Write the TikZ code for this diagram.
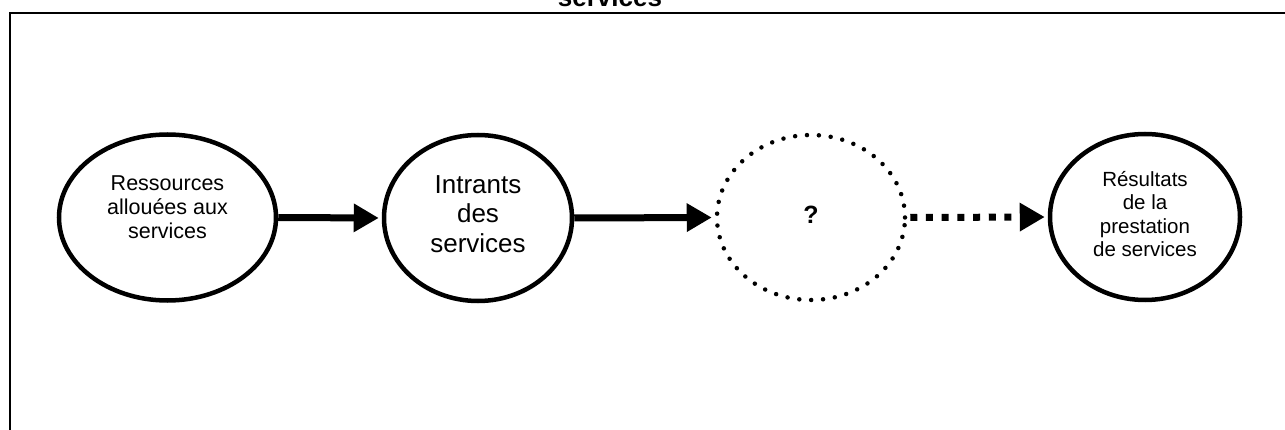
\documentclass[tikz,border=0pt]{standalone}
\usepackage{fontspec}
\setmainfont{Liberation Sans}
\usetikzlibrary{shapes.geometric,arrows.meta}
\tikzset{
  bubble/.style={ellipse, draw, line width=4.5pt, inner sep=0pt},
  dotbubble/.style={ellipse, draw, line width=4.5pt, inner sep=0pt, dash pattern=on 0pt off 11.9pt, line cap=round},
  txt/.style={align=center, inner sep=0pt},
  flow/.style={line width=7pt, -{Triangle[length=25pt, width=27pt]}, shorten >=3pt},
  dflow/.style={flow, dash pattern=on 7pt off 8.7pt},
  frame/.style={line width=2pt}
}
\begin{document}
\begin{tikzpicture}[x=1pt,y=-1pt]
\useasboundingbox (0,0) rectangle (1285,430);
% frame
\coordinate (fbl) at (10,445);
\coordinate (ftl) at (10,13);
\coordinate (ftr) at (1300,13);
\draw[frame] (fbl) -- (ftl) -- (ftr);
% title (cut off at the top, as in the reference)
\node[anchor=base, inner sep=0pt, font=\bfseries\fontsize{26}{30}\selectfont] (title) at (610,6.5) {services};
% ellipses
\node[bubble, minimum width=217pt, minimum height=166pt] (e1) at (167.5,217.5) {};
\node[bubble, minimum width=188pt, minimum height=166pt] (e2) at (478,218) {};
\node[dotbubble, minimum width=188pt, minimum height=165pt] (e3) at (811,217.5) {};
\node[bubble, minimum width=190pt, minimum height=166pt] (e4) at (1145,217) {};
% texts
\node[txt, font=\fontsize{21.5}{24}\selectfont] (t1) at (167.5,207) {Ressources\\allouées aux\\services};
\node[txt, font=\fontsize{26}{29.5}\selectfont] (t2) at (478,214) {Intrants\\des\\services};
\node[txt, font=\bfseries\fontsize{25}{28}\selectfont] (t3) at (811,215) {?};
\node[txt, font=\fontsize{20.5}{23.3}\selectfont] (t4) at (1145,214) {Résultats\\de la\\prestation\\de services};
% arrows
\draw[flow] (e1.east) -- (e2.west);
\draw[flow] (e2.east) -- (e3.west);
\draw[dflow] ([xshift=3pt]e3.east) -- (e4.west);
\end{tikzpicture}
\end{document}
